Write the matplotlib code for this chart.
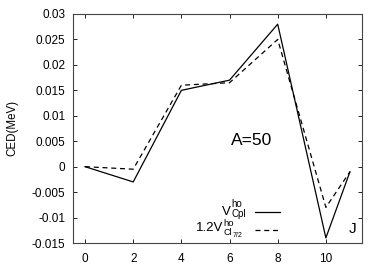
import matplotlib
matplotlib.use("Agg")
import matplotlib.pyplot as plt
from matplotlib.lines import Line2D

plt.rcParams['font.family'] = ['Liberation Sans', 'DejaVu Sans']

J = [0, 2, 4, 6, 8, 10, 11]
ced_cpl = [0.0, -0.003, 0.015, 0.017, 0.028, -0.014, -0.001]
ced_cl72 = [0.0, -0.0005, 0.016, 0.0165, 0.025, -0.008, -0.001]
xticks = [0, 2, 4, 6, 8, 10]
yticks = [-0.015, -0.01, -0.005, 0, 0.005, 0.01, 0.015, 0.02, 0.025, 0.03]
yticklabels = ['-0.015', '-0.01', '-0.005', '0', '0.005', '0.01', '0.015', '0.02', '0.025', '0.03']

fig = plt.figure(figsize=(3.82, 2.67), dpi=100)
ax = fig.add_axes([73/382, 1-243/267, (362-73)/382, (243-14)/267])
ax.plot(J, ced_cpl, color='black', lw=0.9, linestyle='-')
ax.plot(J, ced_cl72, color='black', lw=0.9, linestyle=(0, (4, 3)))
ax.set_xlim(-0.5, 11.5)
ax.set_ylim(-0.015, 0.03)
ax.set_xticks(xticks)
ax.set_yticks(yticks)
ax.set_yticklabels(yticklabels)
ax.tick_params(direction='in', top=True, right=True, labelsize=8.5, length=3, width=0.6)
ax.tick_params(axis='y', pad=5.5)
ax.tick_params(axis='x', pad=7)
for s in ax.spines.values():
    s.set_linewidth(0.8)
    s.set_color('#444444')
ax.set_ylabel('CED(MeV)', fontsize=8.3)
ax.yaxis.set_label_coords(-0.19, 0.5)
ax.text(6.05, 0.0052, 'A=50', fontsize=12.5, va='center', ha='left')
ax.text(11.25, -0.0123, 'J', fontsize=11, va='center', ha='right')


def chain(prev, s, y, size, dx=0.0):
    return ax.annotate(s, xy=(1, y), xycoords=(prev, 'data'), xytext=(dx, 0),
                       textcoords='offset points', fontsize=size,
                       va='baseline', ha='left')


# legend entry 1
t1 = ax.text(5.7, -0.0094, 'V', fontsize=9.5, va='baseline', ha='left')
chain(t1, 'ho', -0.0080, 7)
chain(t1, 'Cpl', -0.0099, 7)
# legend entry 2
t2 = ax.text(4.62, -0.0127, '1.2V', fontsize=9.5, va='baseline', ha='left')
chain(t2, 'ho', -0.0117, 6.8)
tcl = chain(t2, 'Cl', -0.0134, 6.5)
chain(tcl, '7/2', -0.0139, 5)

ax.add_line(Line2D([7.05, 8.1], [-0.0090, -0.0090], color='black', lw=0.9))
ax.add_line(Line2D([7.05, 8.1], [-0.0124, -0.0124], color='black', lw=0.9, linestyle=(0, (4, 3))))

fig.savefig('out.png', dpi=100)
